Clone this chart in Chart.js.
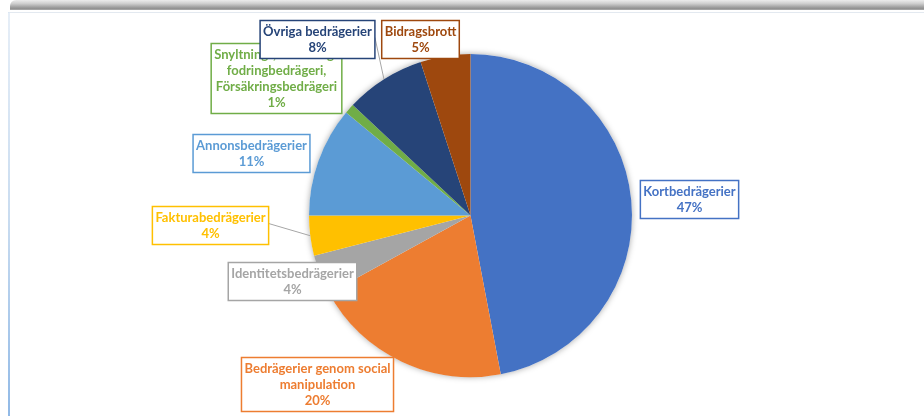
<!DOCTYPE html>
<html lang="sv">
<head>
<meta charset="utf-8">
<title>Bedrägerier – fördelning</title>
<script src="https://cdn.jsdelivr.net/npm/chart.js@4.4.1/dist/chart.umd.min.js"></script>
<style>
  html, body { margin: 0; padding: 0; background: #fff; }
  #wrap { position: relative; width: 924px; height: 416px; overflow: hidden; }
  /* grey shadow band along the top edge (screenshot of a chart frame) */
  .topbar {
    position: absolute; left: 10px; top: 0; width: 920px; height: 10px;
    background: linear-gradient(to bottom, #ececec 0%, #cfcfcf 35%, #9c9c9c 75%, #8e8e8e 90%, #b8b8b8 100%);
    border-top-left-radius: 6px;
  }
  .frame {
    position: absolute; left: 8px; top: 12px; width: 920px; height: 410px;
    border-top: 1px solid #e3e9f0;
    border-left: 2px solid #d7e5f4;
  }
  .frame::before {
    content: ""; position: absolute; left: -2px; top: 0; width: 2px; height: 100%;
    background: linear-gradient(to bottom, #e6eef7 0%, #c9dcf0 50%, #8fb8e6 100%);
  }
  canvas { position: absolute; left: 0; top: 0; }
</style>
</head>
<body>
<div id="wrap">
  <div class="topbar"></div>
  <div class="frame"></div>
  <canvas id="pieChart" width="924" height="416"></canvas>
</div>
<script>
  // --- Data ---
  const categories = [
    "Kortbedrägerier",
    "Bedrägerier genom social\nmanipulation",
    "Identitetsbedrägerier",
    "Fakturabedrägerier",
    "Annonsbedrägerier",
    "Snyltning-, Betalning-\nfodringbedrägeri,\nFörsäkringsbedrägeri",
    "Övriga bedrägerier",
    "Bidragsbrott"
  ];
  const shares = [47, 20, 4, 4, 11, 1, 8, 5];

  // --- Styling ---
  const sliceColors = ["#4472C4", "#ED7D31", "#A5A5A5", "#FFC000", "#5B9BD5", "#70AD47", "#264478", "#9E480E"];
  // label box centre, relative to the pie centre (px)
  const labelOffsets = [
    [219, -16], [-153, 169], [-178, 66], [-260, 10],
    [-219, -62], [-194, -137], [-153, -176], [-50, -176]
  ];
  const leaderLines = [false, false, false, true, false, false, true, false];
  const LABEL_FONT = "bold 13px Lato, 'Open Sans', sans-serif";
  const LINE_H = 16;

  // soft shadow under the whole pie, like the Excel original
  const pieShadow = {
    id: "pieShadow",
    beforeDatasetsDraw(chart) {
      const arc = chart.getDatasetMeta(0).data[0];
      if (!arc) return;
      const { x, y, outerRadius } = arc.getProps(["x", "y", "outerRadius"], true);
      const ctx = chart.ctx;
      ctx.save();
      ctx.shadowColor = "rgba(0,0,0,0.35)";
      ctx.shadowBlur = 6;
      ctx.beginPath();
      ctx.arc(x, y, outerRadius, 0, Math.PI * 2);
      ctx.fillStyle = "#fff";
      ctx.fill();
      ctx.restore();
    }
  };

  // boxed data labels with optional leader lines
  const calloutLabels = {
    id: "calloutLabels",
    afterDatasetsDraw(chart) {
      const ctx = chart.ctx;
      const arcs = chart.getDatasetMeta(0).data;
      ctx.save();
      ctx.font = LABEL_FONT;
      arcs.forEach((arc, i) => {
        const p = arc.getProps(["x", "y", "startAngle", "endAngle", "outerRadius"], true);
        const lines = categories[i].split("\n").concat(shares[i] + "%");
        const w = Math.max(...lines.map(l => ctx.measureText(l).width)) + 6;
        const h = lines.length * LINE_H + 6;
        const cx = p.x + labelOffsets[i][0];
        const cy = p.y + labelOffsets[i][1];
        const left = cx - w / 2, top = cy - h / 2;

        if (leaderLines[i]) {
          const mid = (p.startAngle + p.endAngle) / 2;
          const ax = p.x + Math.cos(mid) * p.outerRadius;
          const ay = p.y + Math.sin(mid) * p.outerRadius;
          let sx, sy;
          if (ax > left + w || ax < left) {
            sx = ax > left + w ? left + w : left;
            sy = cy - 2;
          } else {
            sx = Math.min(Math.max(ax, left), left + w);
            sy = Math.min(Math.max(ay, top), top + h);
          }
          ctx.beginPath();
          ctx.moveTo(sx, sy);
          ctx.lineTo(ax, ay);
          ctx.strokeStyle = "#A6A6A6";
          ctx.lineWidth = 1;
          ctx.stroke();
        }

        ctx.fillStyle = "#fff";
        ctx.fillRect(left, top, w, h);
        ctx.strokeStyle = sliceColors[i];
        ctx.lineWidth = 1.5;
        ctx.strokeRect(left, top, w, h);

        ctx.fillStyle = sliceColors[i];
        ctx.textAlign = "center";
        ctx.textBaseline = "middle";
        lines.forEach((l, k) => {
          ctx.fillText(l, cx, top + 3 + LINE_H * k + LINE_H / 2 + 0.5);
        });
      });
      ctx.restore();
    }
  };

  new Chart(document.getElementById("pieChart"), {
    type: "pie",
    data: {
      labels: categories,
      datasets: [{
        data: shares,
        backgroundColor: sliceColors,
        borderWidth: 0
      }]
    },
    options: {
      responsive: false,
      animation: false,
      layout: { padding: { left: 309, right: 292, top: 54, bottom: 39 } },
      plugins: {
        legend: { display: false },
        tooltip: { enabled: false }
      }
    },
    plugins: [pieShadow, calloutLabels]
  });
</script>
</body>
</html>
